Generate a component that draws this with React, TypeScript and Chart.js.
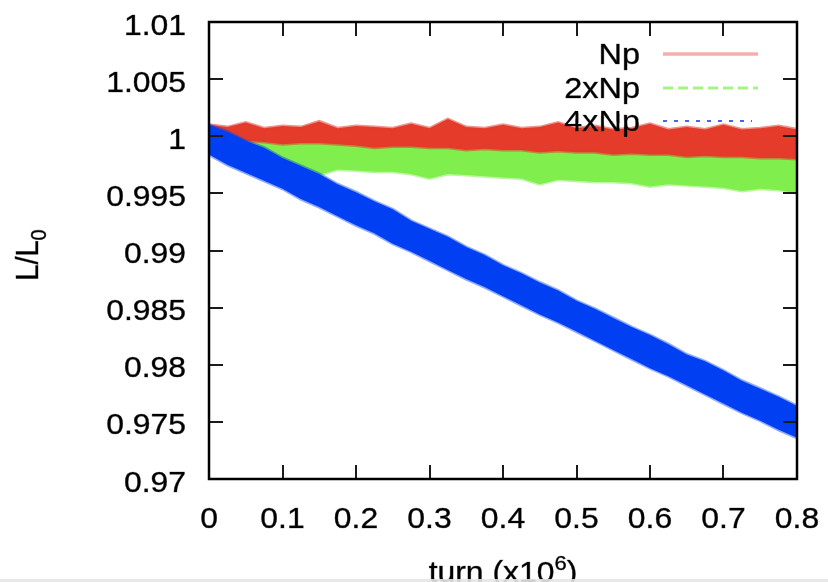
import React, { useEffect, useRef } from 'react';
import { Chart, registerables } from 'chart.js';

Chart.register(...registerables);

// ---- data ----
const turns = [
  0, 0.025, 0.05, 0.075, 0.1, 0.125, 0.15, 0.175, 0.2, 0.225, 0.25, 0.275, 0.3,
  0.325, 0.35, 0.375, 0.4, 0.425, 0.45, 0.475, 0.5, 0.525, 0.55, 0.575, 0.6,
  0.625, 0.65, 0.675, 0.7, 0.725, 0.75, 0.775, 0.8,
];

// Np (red) band envelope
const npUpper = [
  1.001, 1.0008, 1.0012, 1.0007, 1.0009, 1.0008, 1.0013, 1.0007, 1.0009, 1.0008,
  1.0007, 1.0011, 1.0007, 1.0015, 1.0008, 1.0007, 1.001, 1.0007, 1.0008, 1.0012,
  1.0007, 1.0009, 1.0006, 1.0007, 1.0011, 1.0006, 1.0008, 1.0006, 1.001, 1.0006,
  1.0007, 1.0009, 1.0006,
];
const npLower = [
  0.9997, 0.9996, 0.9996, 0.9995, 0.9993, 0.9994, 0.9994, 0.9993, 0.9992, 0.999,
  0.9991, 0.9991, 0.999, 0.999, 0.9988, 0.9989, 0.9988, 0.9988, 0.9986, 0.9987,
  0.9986, 0.9986, 0.9984, 0.9985, 0.9984, 0.9984, 0.9982, 0.9983, 0.9982, 0.9982,
  0.9981, 0.9981, 0.998,
];

// 2xNp (green) band envelope
const np2Upper = [
  1.0003, 1.0001, 1.0, 0.9999, 0.9999, 0.9998, 0.9998, 0.9997, 0.9997, 0.9996,
  0.9996, 0.9995, 0.9995, 0.9994, 0.9994, 0.9993, 0.9993, 0.9992, 0.9992, 0.9991,
  0.9991, 0.999, 0.999, 0.9989, 0.9989, 0.9988, 0.9988, 0.9987, 0.9987, 0.9986,
  0.9986, 0.9985, 0.9985,
];
const np2Lower = [
  0.999, 0.9979, 0.9976, 0.9975, 0.9974, 0.9972, 0.9966, 0.9971, 0.997, 0.9969,
  0.9969, 0.9967, 0.9963, 0.9967, 0.9966, 0.9965, 0.9964, 0.9963, 0.9958, 0.9962,
  0.9961, 0.996, 0.996, 0.9959, 0.9956, 0.9958, 0.9957, 0.9956, 0.9955, 0.9952,
  0.9954, 0.9953, 0.995,
];

// 4xNp (blue) band envelope
const np4Upper = [
  1.001, 1.0004, 0.9996, 0.999, 0.9981, 0.9974, 0.9967, 0.9958, 0.9951, 0.9943,
  0.9936, 0.9926, 0.9919, 0.9912, 0.9903, 0.9896, 0.9887, 0.988, 0.9872, 0.9865,
  0.9856, 0.9849, 0.9841, 0.9833, 0.9826, 0.9818, 0.9809, 0.9803, 0.9795, 0.9786,
  0.9779, 0.9772, 0.9764,
];
const np4Lower = [
  0.9984, 0.9975, 0.9968, 0.9961, 0.9954, 0.9945, 0.9938, 0.993, 0.9922, 0.9915,
  0.9906, 0.9899, 0.9891, 0.9883, 0.9875, 0.9868, 0.986, 0.9852, 0.9844, 0.9837,
  0.9829, 0.9821, 0.9813, 0.9805, 0.9797, 0.979, 0.9782, 0.9774, 0.9766, 0.9758,
  0.9751, 0.9743, 0.9736,
];

const seriesNames = ['Np', '2xNp', '4xNp'];
const seriesColors = ['#e43b2b', '#80ee4c', '#0040f2'];
const seriesEdges = ['rgba(228,59,43,0.55)', 'rgba(128,238,76,0.55)', 'rgba(0,64,242,0.45)'];
const legendColors = ['rgba(236,120,120,0.6)', 'rgba(128,238,76,0.7)', 'rgba(30,60,242,0.8)'];

const xTickValues = [0, 0.1, 0.2, 0.3, 0.4, 0.5, 0.6, 0.7, 0.8];
const xTickLabels = ['0', '0.1', '0.2', '0.3', '0.4', '0.5', '0.6', '0.7', '0.8'];
const yTickValues = [0.97, 0.975, 0.98, 0.985, 0.99, 0.995, 1.0, 1.005, 1.01];
const yTickLabels = ['0.97', '0.975', '0.98', '0.985', '0.99', '0.995', '1', '1.005', '1.01'];

const xTitle = 'turn (x10';
const xTitleSup = '6';
const xTitleEnd = ')';
const yTitle = 'L/L';
const yTitleSub = '0';

const FONT = '"Liberation Sans", Arial, Helvetica, sans-serif';
const SX = 1.1; // horizontal stretch of the text seen in the picture

const toPts = (ys: number[]) => ys.map((y, i) => ({ x: turns[i], y }));

const band = (lower: number[], upper: number[], color: string, edge: string, order: number) => [
  {
    label: '_lower',
    data: toPts(lower),
    borderColor: edge,
    backgroundColor: color,
    borderWidth: 3,
    pointRadius: 0,
    fill: false,
    order,
    tension: 0,
  },
  {
    label: '_upper',
    data: toPts(upper),
    borderColor: edge,
    backgroundColor: color,
    borderWidth: 3,
    pointRadius: 0,
    fill: '-1',
    order,
    tension: 0,
  },
];

function drawText(ctx: any, text: string, x: number, y: number, align: string, size: number) {
  ctx.save();
  ctx.translate(x, y);
  ctx.scale(SX, 1);
  ctx.font = `${size}px ${FONT}`;
  ctx.textAlign = align;
  ctx.textBaseline = 'alphabetic';
  ctx.fillStyle = '#000';
  ctx.strokeStyle = 'rgba(0,0,0,0.55)';
  ctx.lineWidth = 0.6;
  ctx.fillText(text, 0, 0);
  ctx.strokeText(text, 0, 0);
  ctx.restore();
}

const framePlugin = {
  id: 'gnuframe',
  afterDraw(chart: any) {
    const { ctx, chartArea: a, scales } = chart;
    ctx.save();
    // ticks (inward, mirrored)
    ctx.strokeStyle = '#1a1a1a';
    ctx.lineWidth = 2;
    const tl = 14;
    ctx.beginPath();
    for (const v of xTickValues) {
      const px = Math.round(scales.x.getPixelForValue(v));
      ctx.moveTo(px, a.bottom);
      ctx.lineTo(px, a.bottom - tl);
      ctx.moveTo(px, a.top);
      ctx.lineTo(px, a.top + tl);
    }
    for (const v of yTickValues) {
      const py = Math.round(scales.y.getPixelForValue(v));
      ctx.moveTo(a.left, py);
      ctx.lineTo(a.left + tl, py);
      ctx.moveTo(a.right, py);
      ctx.lineTo(a.right - tl, py);
    }
    ctx.stroke();
    // border
    ctx.strokeStyle = '#000';
    ctx.lineWidth = 2.5;
    ctx.strokeRect(a.left, a.top, a.right - a.left, a.bottom - a.top);

    // tick labels
    const fs = 29;
    xTickValues.forEach((v, i) => {
      drawText(ctx, xTickLabels[i], scales.x.getPixelForValue(v), 528, 'center', fs);
    });
    yTickValues.forEach((v, i) => {
      drawText(ctx, yTickLabels[i], 186, scales.y.getPixelForValue(v) + 12.5, 'right', fs);
    });

    // legend
    const rowBase = [64, 98, 131];
    const rowMid = [54, 88, 121];
    const dashes = [[], [10, 5], [4, 7]];
    const widths = [3.5, 3, 2];
    seriesNames.forEach((name, i) => {
      drawText(ctx, name, 640, rowBase[i], 'right', 29.5);
      ctx.beginPath();
      ctx.setLineDash(dashes[i]);
      ctx.strokeStyle = legendColors[i];
      ctx.lineWidth = widths[i];
      ctx.moveTo(663, rowMid[i]);
      ctx.lineTo(i === 2 ? 752 : 758, rowMid[i]);
      ctx.stroke();
    });
    ctx.setLineDash([]);

    // x title
    const sfs = 20;
    ctx.font = `${fs}px ${FONT}`;
    const w1 = ctx.measureText(xTitle).width * SX;
    const w3 = ctx.measureText(xTitleEnd).width * SX;
    ctx.font = `${sfs}px ${FONT}`;
    const w2 = ctx.measureText(xTitleSup).width * SX;
    const total = w1 + w2 + w3;
    const cx = (a.left + a.right) / 2;
    const x0 = cx - total / 2;
    const base = 582;
    drawText(ctx, xTitle, x0, base, 'left', fs);
    drawText(ctx, xTitleSup, x0 + w1, base - 12, 'left', sfs);
    drawText(ctx, xTitleEnd, x0 + w1 + w2, base, 'left', fs);

    // y title (rotated)
    ctx.save();
    ctx.translate(38, 255);
    ctx.scale(SX, 1);
    ctx.rotate(-Math.PI / 2);
    ctx.fillStyle = '#000';
    ctx.strokeStyle = 'rgba(0,0,0,0.55)';
    ctx.lineWidth = 0.6;
    ctx.textAlign = 'left';
    ctx.textBaseline = 'alphabetic';
    ctx.font = `${fs}px ${FONT}`;
    const yw1 = ctx.measureText(yTitle).width;
    ctx.font = `${sfs}px ${FONT}`;
    const yw2 = ctx.measureText(yTitleSub).width;
    const yx0 = -(yw1 + yw2) / 2;
    ctx.font = `${fs}px ${FONT}`;
    ctx.fillText(yTitle, yx0, 0);
    ctx.strokeText(yTitle, yx0, 0);
    ctx.font = `${sfs}px ${FONT}`;
    ctx.fillText(yTitleSub, yx0 + yw1, 7);
    ctx.strokeText(yTitleSub, yx0 + yw1, 7);
    ctx.restore();

    // faint strip at bottom edge of the picture
    ctx.fillStyle = 'rgba(230,230,230,0.9)';
    ctx.fillRect(0, 579, 828, 3);
    ctx.restore();
  },
};

export default function App() {
  const ref = useRef<HTMLCanvasElement | null>(null);
  useEffect(() => {
    if (!ref.current) return;
    const chart = new Chart(ref.current, {
      type: 'line',
      data: {
        datasets: [
          ...band(np2Lower, np2Upper, seriesColors[1], seriesEdges[1], 3),
          ...band(npLower, npUpper, seriesColors[0], seriesEdges[0], 2),
          ...band(np4Lower, np4Upper, seriesColors[2], seriesEdges[2], 1),
        ] as any,
      },
      options: {
        animation: false,
        responsive: false,
        devicePixelRatio: 1,
        layout: { padding: { top: 22, right: 31, left: 0, bottom: 0 } },
        plugins: {
          legend: { display: false },
          tooltip: { enabled: false },
          filler: { propagate: false },
        },
        scales: {
          x: {
            type: 'linear',
            min: 0,
            max: 0.8,
            grid: { display: false, drawTicks: false },
            border: { display: false },
            ticks: { display: false },
            afterBuildTicks: (s: any) => {
              s.ticks = xTickValues.map((v) => ({ value: v }));
            },
            afterFit: (s: any) => {
              s.height = 103;
            },
          },
          y: {
            type: 'linear',
            min: 0.97,
            max: 1.01,
            grid: { display: false, drawTicks: false },
            border: { display: false },
            ticks: { display: false },
            afterBuildTicks: (s: any) => {
              s.ticks = yTickValues.map((v) => ({ value: v }));
            },
            afterFit: (s: any) => {
              s.width = 209;
            },
          },
        },
      } as any,
      plugins: [framePlugin],
    });
    return () => chart.destroy();
  }, []);
  return (
    <div style={{ position: 'absolute', left: 0, top: 0, width: 828, height: 582, background: '#fff' }}>
      <canvas ref={ref} width={828} height={582} style={{ display: 'block' }} />
    </div>
  );
}
